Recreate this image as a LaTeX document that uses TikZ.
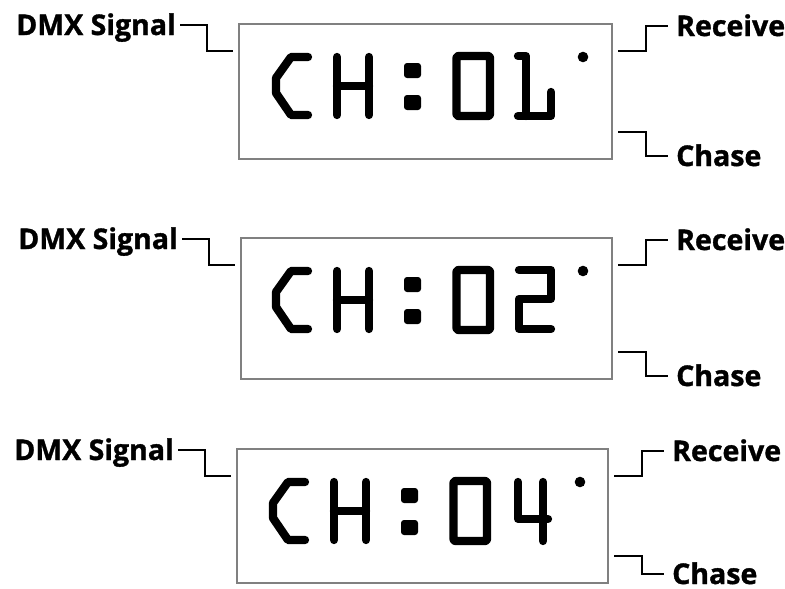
\documentclass[tikz,border=0pt]{standalone}
\usepackage{fontspec}
\setmainfont{Open Sans}[BoldFeatures={FakeBold=1.2}]
\usepackage{tikz}

\tikzset{
  lcdbox/.style={draw=black!50,line width=1.3pt,inner sep=0pt,outer sep=0pt},
  lbl/.style={font=\bfseries\fontsize{28.5}{28.5}\selectfont,inner sep=0pt,text height=20pt,text depth=0pt},
  wire/.style={line width=2.8pt},
  seg/.style={line width=8.3pt,line cap=round,line join=round}
}

% fixed part of the display: C H : 0 and the dot
\newcommand{\lcdhead}{%
  \draw[seg] (308,57) -- (291,57) -- (276,78) -- (276,93) -- (291,115) -- (308,115);
  \draw[seg] (337,57) -- (337,115);
  \draw[seg] (369,57) -- (369,115);
  \draw[seg] (337,86) -- (369,86);
  \fill[rounded corners=3pt] (404,63) rectangle (421,78);
  \fill[rounded corners=3pt] (404,95) rectangle (421,110);
  \draw[seg,rounded corners=2pt] (456.5,56) rectangle (490,116);
  \fill (583,57) circle (5.3);
}

\begin{document}
\begin{tikzpicture}[x=1pt,y=-1pt]
    \useasboundingbox (0,0) rectangle (785,589);
    \foreach \n/\L/\T/\R/\B/\up in {1/239/24/612/159/3, 2/241/238/612/379/3, 3/237/449/608/583/9} {
        \node[lcdbox,minimum width={\R-\L},minimum height={\B-\T}] (box\n) at ({(\L+\R)/2},{(\T+\B)/2}) {};
        \node[lbl,anchor=east] (sig\n) at ([xshift=-63pt,yshift=-1pt]box\n.north west) {DMX Signal};
        \node[lbl,anchor=west] (rcv\n) at ([xshift=64pt,yshift=-2pt]box\n.north east) {Receive};
        \node[lbl,anchor=west] (chs\n) at ([xshift=64pt,yshift=\up pt]box\n.south east) {Chase};
        \draw[wire] ([xshift=4pt]sig\n.east) -- ++(27,0) |- ([xshift=-6pt,yshift=-27pt]box\n.north west);
        \draw[wire] ([xshift=6pt,yshift=-27pt]box\n.north east) -- ++(28,0) |- ([xshift=-8pt]rcv\n.west);
        \draw[wire] ([xshift=6pt,yshift=27pt]box\n.south east) -- ++(28,0) |- ([xshift=-8pt]chs\n.west);
    }
    % CH:01
    \begin{scope}
        \lcdhead
        \draw[seg] (518,56) -- (526,56) -- (526,116);
        \draw[seg] (518,116) -- (551,116) -- (551,92);
    \end{scope}
    % CH:02
    \begin{scope}[shift={(0,214)}]
        \lcdhead
        \draw[seg] (519,56) -- (551,56) -- (551,85) -- (519,85) -- (519,115) -- (551,115);
    \end{scope}
    % CH:04
    \begin{scope}[shift={(-3,425)}]
        \lcdhead
        \draw[seg] (521,57) -- (521,94) -- (551,94);
        \draw[seg] (546,57) -- (546,116);
    \end{scope}
\end{tikzpicture}
\end{document}
